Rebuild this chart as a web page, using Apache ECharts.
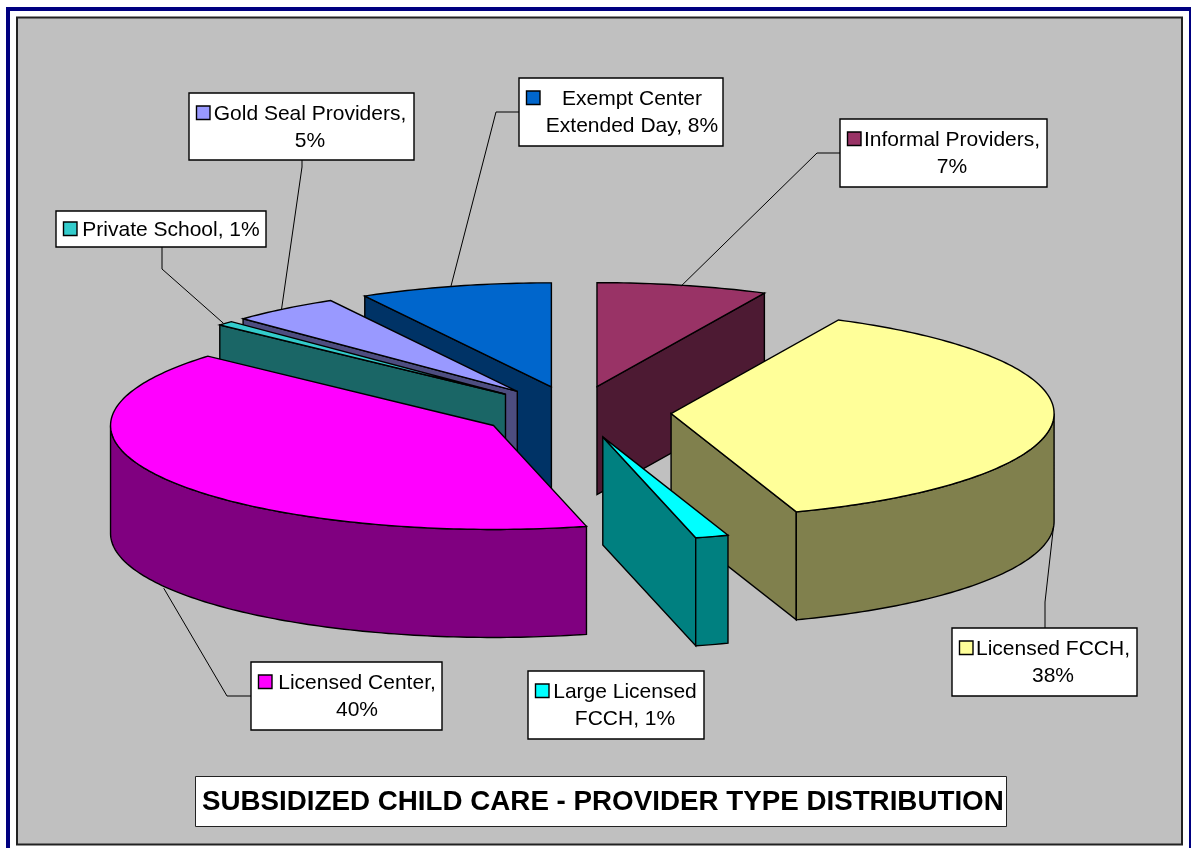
<!DOCTYPE html>
<html>
<head>
<meta charset="utf-8">
<title>Subsidized child care - provider type distribution</title>
<style>
html, body { margin: 0; padding: 0; background: #fff; }
#chart { width: 1191px; height: 848px; }
</style>
<script src="https://cdn.jsdelivr.net/npm/echarts@6/dist/echarts.min.js"></script>
</head>
<body>
<div id="chart"></div>
<script>
// data, clockwise from 12 o'clock
var categories = ['Informal Providers', 'Licensed FCCH', 'Large Licensed FCCH', 'Licensed Center',
    'Private School', 'Gold Seal Providers', 'Exempt Center Extended Day'];
var shares = [7.2, 37.5, 1.4, 40.5, 0.7, 4.6, 8.1];
var labelTexts = ['Informal Providers,\n7%', 'Licensed FCCH,\n38%', 'Large Licensed\nFCCH, 1%', 'Licensed Center,\n40%',
    'Private School, 1%', 'Gold Seal Providers,\n5%', 'Exempt Center\nExtended Day, 8%'];
var chartTitle = 'SUBSIDIZED CHILD CARE - PROVIDER TYPE DISTRIBUTION';

// styles
var topColors = ['#993366', '#FFFF99', '#00FFFF', '#FF00FF', '#33CCCC', '#9999FF', '#0066CC'];
var sideColors = ['#4D1A33', '#80804D', '#008080', '#800080', '#1A6666', '#4D4D80', '#003366'];
var FONT = '"Liberation Sans", Arial, sans-serif';

// pie geometry: flattened disc, every slice pulled out by the same amount
var pie = { cx: 575.5, cy: 412, rx: 383, ry: 104, depth: 108, explode: 0.25 };
// back slices first so the front ones cover them
var drawOrder = [0, 6, 5, 4, 1, 2, 3];
// label boxes: box x,y,w,h / text centre x / leader elbow / small nudge of the leader tip
var labelLayout = [
    { box: [840, 119, 207, 68], textX: 952, elbow: [[840, 153], [817, 153]], tip: [-2, 1] },
    { box: [952, 628, 185, 68], textX: 1053, elbow: [[1045, 628], [1045, 602]], tip: [0, 0] },
    { box: [528, 671, 176, 68], textX: 625, elbow: null },
    { box: [251, 662, 191, 68], textX: 357, elbow: [[251, 696], [227, 696]], tip: [-2, 1] },
    { box: [56, 211, 210, 36], textX: 171, elbow: [[162, 247], [162, 269]], tip: [-2, 0] },
    { box: [189, 93, 225, 67], textX: 310, elbow: [[302, 160], [302, 167]], tip: [-3, 1] },
    { box: [519, 78, 204, 68], textX: 632, elbow: [[519, 112], [496, 112]], tip: [-4, 0] }
];

var total = shares.reduce(function (a, b) { return a + b; }, 0);
var sliceRows = [];
var running = 0;
var angles = shares.map(function (s) {
    var from = -90 + running / total * 360;
    running += s;
    return [from, -90 + running / total * 360];
});
drawOrder.forEach(function (i) {
    sliceRows.push([i, shares[i], angles[i][0], angles[i][1]]);
});

function rad(d) { return d * Math.PI / 180; }
function apexOf(a0, a1) {
    var m = rad((a0 + a1) / 2);
    return [pie.cx + pie.explode * pie.rx * Math.cos(m), pie.cy + pie.explode * pie.ry * Math.sin(m)];
}
function rimPoint(apex, deg) {
    return [apex[0] + pie.rx * Math.cos(rad(deg)), apex[1] + pie.ry * Math.sin(rad(deg))];
}
function drop(p) { return [p[0], p[1] + pie.depth]; }
function poly(points, fill) {
    return {
        type: 'polygon',
        shape: { points: points },
        style: { fill: fill, stroke: '#000', lineWidth: 1.4, lineJoin: 'miter' }
    };
}
function arcPoints(apex, from, to) {
    var pts = [];
    for (var d = from; d < to; d += 1) pts.push(rimPoint(apex, d));
    pts.push(rimPoint(apex, to));
    return pts;
}

function renderSlice(params, api) {
    var i = api.value(0), a0 = api.value(2), a1 = api.value(3);
    var apex = apexOf(a0, a1);
    var kids = [];
    // radial walls, only the ones turned to the viewer
    if (Math.cos(rad(a0)) < -1e-6) {
        var p0 = rimPoint(apex, a0);
        kids.push(poly([apex, p0, drop(p0), drop(apex)], sideColors[i]));
    }
    if (Math.cos(rad(a1)) > 1e-6) {
        var p1 = rimPoint(apex, a1);
        kids.push(poly([apex, p1, drop(p1), drop(apex)], sideColors[i]));
    }
    // outer wall, front half of the rim only
    var f = Math.max(a0, 0), t = Math.min(a1, 180);
    if (t > f) {
        var rim = arcPoints(apex, f, t);
        kids.push(poly(rim.concat(rim.slice().reverse().map(drop)), sideColors[i]));
    }
    kids.push(poly([apex].concat(arcPoints(apex, a0, a1)), topColors[i]));
    return { type: 'group', children: kids };
}

function renderLabel(params, api) {
    var i = api.value(0);
    var lay = labelLayout[i];
    var box = lay.box;
    var kids = [];
    if (lay.elbow) {
        var mid = (angles[i][0] + angles[i][1]) / 2;
        var tip = rimPoint(apexOf(angles[i][0], angles[i][1]), mid);
        if (Math.sin(rad(mid)) > 0) tip = drop(tip);
        tip = [tip[0] + lay.tip[0], tip[1] + lay.tip[1]];
        kids.push({
            type: 'polyline',
            shape: { points: lay.elbow.concat([tip]) },
            style: { fill: null, stroke: '#000', lineWidth: 1 }
        });
    }
    kids.push({
        type: 'rect',
        shape: { x: box[0], y: box[1], width: box[2], height: box[3] },
        style: { fill: '#fff', stroke: '#000', lineWidth: 1.4 }
    });
    // legend key beside the first line
    kids.push({
        type: 'rect',
        shape: { x: box[0] + 7.5, y: box[1] + (box[3] > 40 ? 13 : 11), width: 13.5, height: 13.5 },
        style: { fill: topColors[i], stroke: '#000', lineWidth: 1.4 }
    });
    kids.push({
        type: 'text',
        style: {
            text: labelTexts[i],
            x: lay.textX,
            y: box[1] + box[3] / 2 + 1,
            align: 'center',
            verticalAlign: 'middle',
            font: '21px ' + FONT,
            lineHeight: 27,
            fill: '#000'
        }
    });
    return { type: 'group', children: kids };
}

var myChart = echarts.init(document.getElementById('chart'), null, { renderer: 'canvas' });
myChart.setOption({
    animation: false,
    backgroundColor: '#fff',
    title: {
        text: chartTitle,
        left: 195,
        top: 776,
        padding: [10, 3, 8, 7],
        backgroundColor: '#fff',
        borderColor: '#222',
        borderWidth: 1,
        textStyle: { fontFamily: FONT, fontSize: 27.75, fontWeight: 'bold', color: '#000', lineHeight: 33 }
    },
    graphic: [
        // page frame: navy rule, white gap, grey panel
        { type: 'rect', z: -2, shape: { x: 8, y: 9, width: 1183, height: 850 },
            style: { fill: '#fff', stroke: '#000080', lineWidth: 4 } },
        { type: 'rect', z: -1, shape: { x: 17, y: 17.5, width: 1165, height: 827 },
            style: { fill: '#C0C0C0', stroke: '#222', lineWidth: 2 } }
    ],
    series: [{
        type: 'custom',
        name: 'Slices',
        coordinateSystem: 'none',
        silent: true,
        z: 2,
        clip: false,
        renderItem: renderSlice,
        data: sliceRows
    }, {
        type: 'custom',
        name: 'Labels',
        coordinateSystem: 'none',
        silent: true,
        z: 3,
        renderItem: renderLabel,
        data: categories.map(function (c, i) { return { name: c, value: [i] }; })
    }]
});
</script>
</body>
</html>
